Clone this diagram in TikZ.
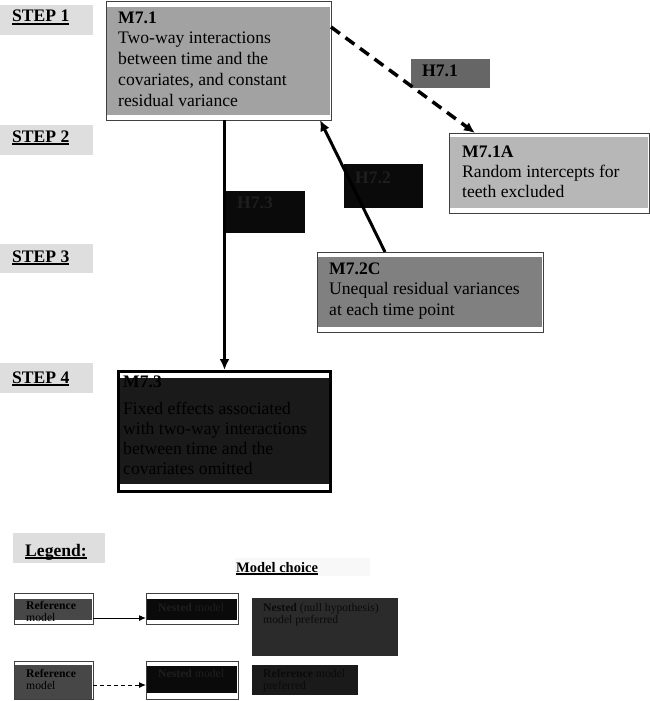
\documentclass[tikz,border=0pt]{standalone}
\usepackage{fontspec}
\setmainfont{Liberation Serif}
\usetikzlibrary{arrows.meta}
\newcommand\myul[1]{\setbox0\hbox{#1}\rlap{\rule[-2.6pt]{\wd0}{1.3pt}}\box0}
\definecolor{stepgray}{HTML}{DEDEDE}
\definecolor{cA}{HTML}{A2A2A2}
\definecolor{cB}{HTML}{B7B7B7}
\definecolor{cC}{HTML}{808080}
\definecolor{cD}{HTML}{1A1A1A}
\definecolor{cH}{HTML}{666666}
\definecolor{cK}{HTML}{0A0A0A}
\definecolor{cKt}{HTML}{1E1E1E}
\definecolor{cR}{HTML}{474747}
\definecolor{cN}{HTML}{2B2B2B}
\definecolor{cMC}{HTML}{F8F8F8}
\definecolor{bord}{HTML}{404040}
\begin{document}
\begin{tikzpicture}[x=1pt,y=-1pt,
  plain/.style={anchor=north west,inner sep=0pt,outer sep=0pt},
  stepbox/.style={plain,fill=stepgray},
  wbox/.style={plain,fill=white,draw=bord,line width=1pt},
  big/.style={font=\fontsize{17.6}{20}\selectfont},
  small/.style={font=\fontsize{11.7}{12.5}\selectfont},
  lbl/.style={anchor=base west,inner sep=0pt},
  body/.style={anchor=north west,inner sep=0pt,align=left},
  thickarrow/.style={line width=3pt,-{Latex[length=11pt,width=10pt]}},
  thinarrow/.style={line width=1pt,-{Latex[length=7pt,width=6pt]}}]
\useasboundingbox (0,0) rectangle (650,701);

% step labels
\node[stepbox,minimum width=93pt,minimum height=30pt] (s1) at (0,5) {};
\node[stepbox,minimum width=93pt,minimum height=30pt] (s2) at (0,125) {};
\node[stepbox,minimum width=93pt,minimum height=29pt] (s3) at (0,244) {};
\node[stepbox,minimum width=93pt,minimum height=30pt] (s4) at (0,363) {};
\node[lbl,big] (t1) at (12,22) {\myul{\textbf{STEP 1}}};
\node[lbl,big] (t2) at (12,142) {\myul{\textbf{STEP 2}}};
\node[lbl,big] (t3) at (12,262) {\myul{\textbf{STEP 3}}};
\node[lbl,big] (t4) at (12,383) {\myul{\textbf{STEP 4}}};

% M7.1
\node[wbox,minimum width=225pt,minimum height=118pt] (m71) at (106,2) {};
\fill[cA] ([xshift=1pt,yshift=-5pt]m71.north west) rectangle ([xshift=-1pt,yshift=5pt]m71.south east);
\node[body,font=\fontsize{17.6}{20.7}\selectfont] (m71t) at (118,10) {\rule{0pt}{13pt}\textbf{M7.1}\\Two-way interactions\\between time and the\\covariates, and constant\\residual variance};

% M7.1A
\node[wbox,minimum width=200pt,minimum height=80pt] (m71a) at (449,133) {};
\fill[cB] ([xshift=1pt,yshift=-4pt]m71a.north west) rectangle ([xshift=-1pt,yshift=5pt]m71a.south east);
\node[body,big] (m71at) at (462,144) {\rule{0pt}{13pt}\textbf{M7.1A}\\Random intercepts for\\teeth excluded};

% M7.2C
\node[wbox,minimum width=226pt,minimum height=80pt] (m72c) at (317,252) {};
\fill[cC] ([xshift=1pt,yshift=-5pt]m72c.north west) rectangle ([xshift=-1pt,yshift=5pt]m72c.south east);
\node[body,font=\fontsize{17.6}{20.5}\selectfont] (m72ct) at (329,261) {\rule{0pt}{13pt}\textbf{M7.2C}\\Unequal residual variances\\at each time point};

% M7.3
\node[plain,fill=white,draw=black,line width=3pt,minimum width=212pt,minimum height=120pt] (m73) at (118.5,371.5) {};
\fill[cD] ([xshift=1.5pt,yshift=-6.5pt]m73.north west) rectangle ([xshift=-1.5pt,yshift=7.5pt]m73.south east);
\node[body,big] (m73t) at (123,374) {\rule{0pt}{13pt}\textbf{M7.3}\\[7pt]Fixed effects associated\\with two-way interactions\\between time and the\\covariates omitted};

% hypothesis labels
\node[plain,fill=cH,minimum width=79pt,minimum height=29pt] (h71) at (411,59) {};
\node[lbl,big] (h71t) at (422,77) {\textbf{H7.1}};
\node[plain,fill=cK,minimum width=79pt,minimum height=44pt] (h72) at (344,164) {};
\node[lbl,big,text=cKt] (h72t) at (355,183) {\textbf{H7.2}};
\node[plain,fill=cK,minimum width=80pt,minimum height=42pt] (h73) at (225,191) {};
\node[lbl,big,text=cKt] (h73t) at (237,208) {\textbf{H7.3}};

% connectors
\draw[line width=3.5pt,dash pattern=on 11pt off 7pt,-{Latex[length=11pt,width=10pt]}]
  ([yshift=-25pt]m71.north east) -- ([xshift=26pt]m71a.north west);
\draw[thickarrow] (m73.north |- m71.south) -- ([yshift=1.5pt]m73.north);
\draw[thickarrow] ([xshift=-45pt]m72c.north) -- ([xshift=-11pt]m71.south east);

% legend
\node[stepbox,minimum width=92pt,minimum height=30pt] (leg) at (13,533) {};
\node[lbl,big] (legt) at (25,556) {\myul{\textbf{Legend:}}};
\node[plain,fill=cMC,minimum width=135pt,minimum height=18pt] (mc) at (235,558) {};
\node[lbl,font=\fontsize{14.5}{16}\selectfont] (mct) at (236,572) {\myul{\textbf{Model choice}}};

\node[wbox,minimum width=79pt,minimum height=31pt] (r1) at (14,593) {};
\fill[cR] ([xshift=1pt,yshift=-6pt]r1.north west) rectangle ([xshift=-1pt,yshift=4pt]r1.south east);
\node[body,small] (r1t) at (26,601) {\rule{0pt}{8pt}\textbf{Reference}\\model};
\node[wbox,minimum width=92pt,minimum height=31pt] (n1) at (146,593) {};
\fill[cK] ([xshift=1pt,yshift=-6pt]n1.north west) rectangle ([xshift=-1pt,yshift=4pt]n1.south east);
\node[lbl,small,text=cKt] (n1t) at (158,611) {\textbf{Nested} model};
\draw[thinarrow] ([yshift=6pt]r1.south east) -- ([yshift=6pt]n1.south west);

\node[wbox,minimum width=79pt,minimum height=38pt] (r2) at (14,661) {};
\fill[cR] ([xshift=1pt,yshift=-4pt]r2.north west) rectangle ([xshift=-1pt,yshift=0.5pt]r2.south east);
\node[body,small] (r2t) at (26,669) {\rule{0pt}{8pt}\textbf{Reference}\\model};
\node[wbox,minimum width=92pt,minimum height=38pt] (n2) at (146,661) {};
\fill[cK] ([xshift=1pt,yshift=-5pt]n2.north west) rectangle ([xshift=-1pt,yshift=6pt]n2.south east);
\node[lbl,small,text=cKt] (n2t) at (158,677) {\textbf{Nested} model};
\draw[thinarrow,dash pattern=on 4pt off 3pt] ([yshift=14pt]r2.south east) -- ([yshift=14pt]n2.south west);

\node[plain,fill=cN,minimum width=146pt,minimum height=58pt] (np) at (252,598) {};
\node[body,small,text=cK] (npt) at (263,603) {\rule{0pt}{8pt}\textbf{Nested} (null hypothesis)\\model preferred};
\node[plain,fill=cD,minimum width=106pt,minimum height=30pt] (rp) at (252,665) {};
\node[body,small,text=cK] (rpt) at (263,669) {\rule{0pt}{8pt}\textbf{Reference} model\\preferred};
\end{tikzpicture}
\end{document}
